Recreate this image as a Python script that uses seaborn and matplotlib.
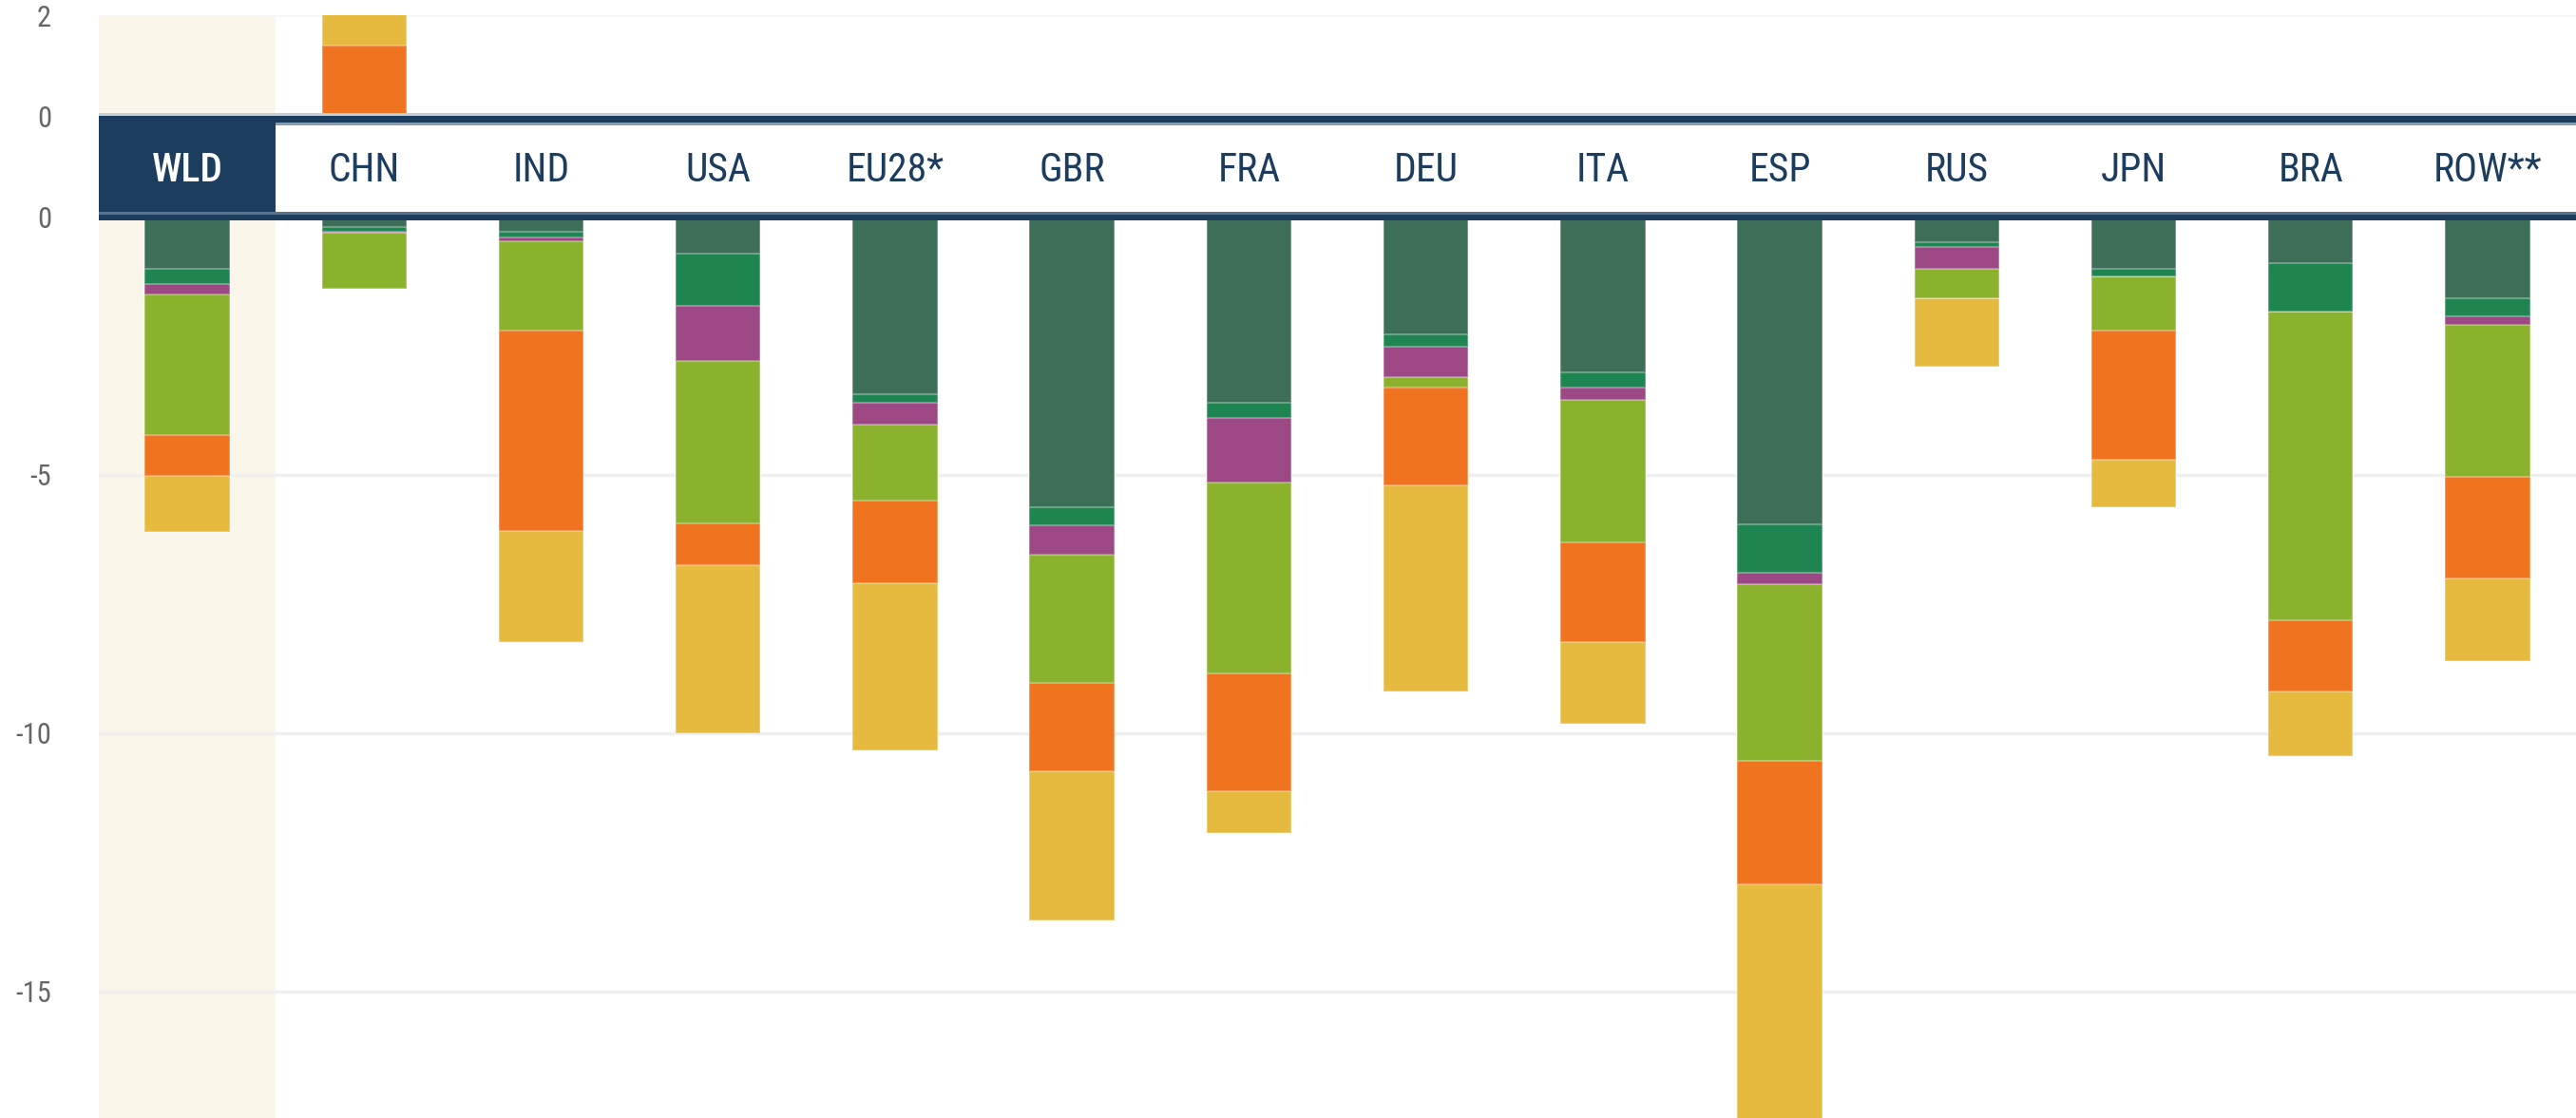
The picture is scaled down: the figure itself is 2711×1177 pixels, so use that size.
# Stacked contributions by region, split axis with a country header band

import numpy as np
import pandas as pd
import matplotlib
matplotlib.use('Agg')
import matplotlib.pyplot as plt
from matplotlib import font_manager
from matplotlib.patches import Rectangle
import seaborn as sns


sns.set_style('white')

# a narrow face is closest to the original; take what is installed
fonts = font_manager.fontManager.ttflist
names = {f.name for f in fonts}
stretch = 'normal'
narrow = None
for cand in ['Liberation Sans Narrow', 'DejaVu Sans Condensed', 'Roboto Condensed',
             'Open Sans Condensed', 'Noto Sans Condensed']:
    if cand in names:
        narrow = cand
        break
if narrow is None:
    cond = [f for f in fonts if f.stretch in ('condensed', 'semi-condensed', 'semicondensed', 500, 'narrow')]
    if cond:
        narrow = cond[0].name
        stretch = 'condensed'
    else:
        narrow = 'Liberation Sans'
plt.rcParams['font.family'] = [narrow, 'DejaVu Sans']
plt.rcParams['font.stretch'] = stretch

countries = ['WLD', 'CHN', 'IND', 'USA', 'EU28*', 'GBR', 'FRA', 'DEU', 'ITA', 'ESP',
             'RUS', 'JPN', 'BRA', 'ROW**']

# negative parts, listed from the zero line downwards
dark_green = [-1.02, -0.20, -0.29, -0.71, -3.44, -5.63, -3.61, -2.28, -3.01, -5.95, -0.49, -1.01, -0.91, -1.59]
green = [-0.29, -0.09, -0.11, -1.01, -0.16, -0.35, -0.29, -0.24, -0.30, -0.95, -0.10, -0.14, -0.93, -0.34]
purple = [-0.20, -0.02, -0.08, -1.07, -0.42, -0.56, -1.25, -0.58, -0.24, -0.21, -0.42, 0.0, 0.0, -0.17]
light_green = [-2.72, -1.09, -1.72, -3.15, -1.48, -2.48, -3.69, -0.21, -2.76, -3.42, -0.58, -1.06, -5.98, -2.94]
orange = [-0.79, 0.0, -3.88, -0.81, -1.60, -1.72, -2.28, -1.89, -1.93, -2.39, 0.0, -2.50, -1.37, -1.96]
yellow = [-1.08, 0.0, -2.16, -3.25, -3.23, -2.88, -0.81, -3.99, -1.58, -5.10, -1.31, -0.91, -1.25, -1.61]

# positive parts (China, and a sliver for Russia)
orange_pos = [0, 1.40, 0, 0, 0, 0, 0, 0, 0, 0, 0.06, 0, 0, 0]
yellow_pos = [0, 0.62, 0, 0, 0, 0, 0, 0, 0, 0, 0, 0, 0, 0]

series_colors = {
    'dark_green': '#3D6E58',
    'green': '#1E8551',
    'purple': '#9B4885',
    'light_green': '#8AB22C',
    'orange': '#F0731F',
    'yellow': '#E5BA3F',
}

NAVY = '#1C3D5E'
CREAM = '#FBF6EA'
GRID = '#EFEFEF'
TICK = '#666666'

neg = pd.DataFrame({'dark_green': dark_green, 'green': green, 'purple': purple,
                    'light_green': light_green, 'orange': orange, 'yellow': yellow},
                   index=countries)
cum_neg = neg.cumsum(axis=1)

pos = pd.DataFrame({'orange': orange_pos, 'yellow': yellow_pos}, index=countries)
cum_pos = pos.cumsum(axis=1)

W, H = 2711, 1177
fig = plt.figure(figsize=(W / 100, H / 100), dpi=100)


def box(x0, y0, x1, y1):
    return [x0 / W, 1 - y1 / H, (x1 - x0) / W, (y1 - y0) / H]


ax_top = fig.add_axes(box(104, 16, 2711, 122))
ax_bot = fig.add_axes(box(104, 228, 2711, 1177))
ax_hdr = fig.add_axes(box(104, 119, 2711, 232))

bar_kws = dict(order=countries, width=0.48, saturation=1, errorbar=None,
               edgecolor=(1, 1, 1, 0.3), linewidth=1.5, zorder=2)

# lower panel: draw the deepest cumulative first, shallower ones on top
for col in reversed(neg.columns):
    sns.barplot(x=countries, y=cum_neg[col].values, color=series_colors[col], ax=ax_bot, **bar_kws)

for col in reversed(pos.columns):
    sns.barplot(x=countries, y=cum_pos[col].values, color=series_colors[col], ax=ax_top, **bar_kws)

for ax in (ax_top, ax_bot):
    ax.set_xlim(-0.5, len(countries) - 0.5)
    ax.axvspan(-0.5, 0.5, color=CREAM, zorder=0, lw=0)
    ax.set_xlabel('')
    ax.set_ylabel('')
    ax.set_xticks([])
    for s in ax.spines.values():
        s.set_visible(False)
    ax.tick_params(axis='y', length=0, pad=36, labelsize=22, labelcolor=TICK)

ax_bot.set_ylim(-17.45, 0)
ax_bot.set_yticks([0, -5, -10, -15])
ax_bot.set_yticklabels(['0', '-5', '-10', '-15'])
for v in (-5, -10, -15):
    ax_bot.axhline(v, color=GRID, lw=2.5, zorder=0.5)

ax_top.set_ylim(0, 2)
ax_top.set_yticks([0, 2])
ax_top.set_yticklabels(['0', '2'])
ax_top.axhline(2, color='#F6F6F6', lw=2, zorder=0.5)

# header band with the country names
ax_hdr.set_zorder(5)
ax_hdr.set_facecolor('white')
ax_hdr.set_xlim(-0.5, len(countries) - 0.5)
ax_hdr.set_ylim(232, 119)
ax_hdr.axis('off')
n = len(countries)
ax_hdr.add_patch(Rectangle((-0.5, 119), n, 3, color='#C8CED5', lw=0))
ax_hdr.add_patch(Rectangle((-0.5, 122), n, 7.5, color=NAVY, lw=0))
ax_hdr.add_patch(Rectangle((0.5, 129.5), n - 1, 2.5, color='#8A9CAE', lw=0))
ax_hdr.add_patch(Rectangle((-0.5, 122), 1, 104, color=NAVY, lw=0))
ax_hdr.add_patch(Rectangle((-0.5, 223), n, 3, color='#5A7490', lw=0))
ax_hdr.add_patch(Rectangle((-0.5, 226), n, 6, color=NAVY, lw=0))

for i, c in enumerate(countries):
    ax_hdr.text(i, 180, c, ha='center', va='center', fontsize=30,
                color='white' if i == 0 else NAVY,
                fontweight='medium' if i == 0 else 'normal')

fig.savefig('out.png', dpi=100)
